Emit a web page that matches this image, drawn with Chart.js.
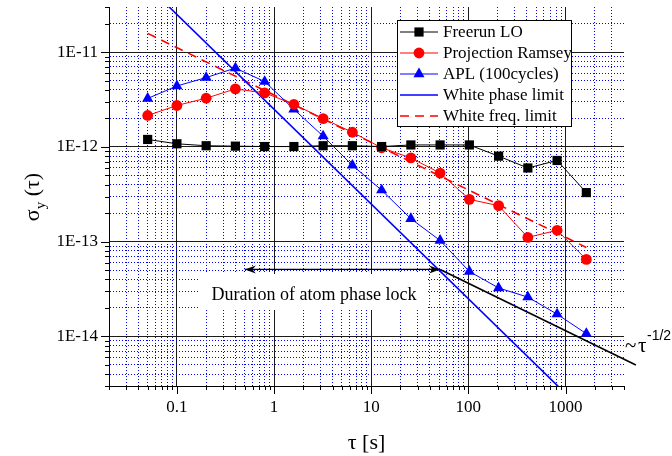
<!DOCTYPE html>
<html>
<head>
<meta charset="utf-8">
<script src="https://cdn.jsdelivr.net/npm/chart.js@4"></script>
<style>
  html, body { margin: 0; padding: 0; background: #fff; }
</style>
</head>
<body>
<canvas id="adevChart" width="672" height="456"></canvas>
<script>
// averaging times (s)
const tau = [0.05, 0.1, 0.2, 0.4, 0.8, 1.6, 3.2, 6.4, 12.8, 25.6, 51.2, 102.4, 204.8, 409.6, 819.2, 1638.4];
const freerunLO = [1.2e-12, 1.08e-12, 1.03e-12, 1.02e-12, 1.01e-12, 1.01e-12, 1.03e-12, 1.03e-12, 1.01e-12, 1.05e-12, 1.05e-12, 1.05e-12, 8.0e-13, 6.0e-13, 7.2e-13, 3.3e-13];
const projRamsey = [2.15e-12, 2.74e-12, 3.27e-12, 4.1e-12, 3.72e-12, 2.82e-12, 1.99e-12, 1.43e-12, 9.8e-13, 7.66e-13, 5.3e-13, 2.8e-13, 2.4e-13, 1.11e-13, 1.32e-13, 6.5e-14];
const apl = [3.25e-12, 4.4e-12, 5.4e-12, 6.8e-12, 4.9e-12, 2.5e-12, 1.3e-12, 6.4e-13, 3.5e-13, 1.75e-13, 1.03e-13, 4.85e-14, 3.25e-14, 2.6e-14, 1.72e-14, 1.07e-14];

// limit lines
const whitePhaseTau = [0.02, 4000];
const whitePhaseSigma = [1.25e-10, 6.25e-16];
const whiteFreqTau = [0.05, 1638.4];
const whiteFreqSigma = [1.58e-11, 8.7e-14];
const slopeTau = [51.2, 5300];
const slopeSigma = [5.1e-14, 5.0e-15];
const lockTau = [0.5, 51.2];
const lockSigma = [5.1e-14, 5.1e-14];

// axes
const xRange = [0.02, 4000];
const yRange = [3e-15, 3e-11];
const xTickValues = [0.1, 1, 10, 100, 1000];
const xTickLabels = ['0.1', '1', '10', '100', '1000'];
const yTickValues = [1e-14, 1e-13, 1e-12, 1e-11];
const yTickLabels = ['1E-14', '1E-13', '1E-12', '1E-11'];

const serif = "'Liberation Serif', 'Times New Roman', serif";
const sans = "'Liberation Sans', Arial, sans-serif";

function pts(xs, ys) {
    return xs.map((x, i) => ({ x: x, y: ys[i] }));
}

function isDecade(v) {
    const l = Math.log10(v);
    return Math.abs(l - Math.round(l)) < 1e-6;
}

function sameVal(a, b) {
    return Math.abs(Math.log10(a) - Math.log10(b)) < 1e-6;
}

function logTicks(min, max) {
    const out = [];
    for (let e = Math.floor(Math.log10(min)); e <= Math.ceil(Math.log10(max)); e++) {
        for (let m = 1; m <= 9; m++) {
            const v = m * Math.pow(10, e);
            if (v >= min * 0.9999 && v <= max * 1.0001) out.push(v);
        }
    }
    return out;
}

function gridColor(c) {
    if (!c.tick) return 'transparent';
    const v = c.tick.value;
    const s = c.scale;
    if (sameVal(v, s.min) || sameVal(v, s.max)) return 'transparent';
    return isDecade(v) ? '#1a1a1a' : '#0000ff';
}

function gridDash(c) {
    if (!c.tick) return [];
    return isDecade(c.tick.value) ? [] : [1, 2];
}

function drawArrowHead(c, x, y, dir) {
    const len = 11, half = 4;
    c.beginPath();
    c.moveTo(x, y);
    c.lineTo(x - dir * len, y - half);
    c.lineTo(x - dir * len * 0.7, y);
    c.lineTo(x - dir * len, y + half);
    c.closePath();
    c.fill();
}

const decorations = {
    id: 'decorations',
    beforeDatasetsDraw(chart) {
        const c = chart.ctx;
        c.save();
        c.fillStyle = '#fff';
        c.fillRect(200, 274, 228, 36);
        c.fillStyle = '#000';
        c.font = '18px ' + serif;
        c.textAlign = 'center';
        c.textBaseline = 'alphabetic';
        c.fillText('Duration of atom phase lock', 314, 300);
        c.restore();
    },
    afterDraw(chart) {
        const c = chart.ctx;
        const xs = chart.scales.x, ys = chart.scales.y;
        c.save();

        // tick marks
        c.strokeStyle = '#000';
        c.lineWidth = 1;
        c.beginPath();
        xs.ticks.forEach(t => {
            const px = Math.round(xs.getPixelForValue(t.value)) + 0.5;
            const len = isDecade(t.value) ? 8 : 4;
            c.moveTo(px, ys.bottom);
            c.lineTo(px, ys.bottom + len);
        });
        ys.ticks.forEach(t => {
            const py = Math.round(ys.getPixelForValue(t.value)) + 0.5;
            const len = isDecade(t.value) ? 8 : 4;
            c.moveTo(xs.left, py);
            c.lineTo(xs.left - len, py);
        });
        c.stroke();

        // arrow heads of the phase lock span
        c.fillStyle = '#000';
        const ay = ys.getPixelForValue(lockSigma[0]);
        drawArrowHead(c, xs.getPixelForValue(lockTau[0]), ay, -1);
        drawArrowHead(c, xs.getPixelForValue(lockTau[1]), ay, 1);

        // ~ tau^-1/2 label
        c.textAlign = 'left';
        c.textBaseline = 'alphabetic';
        c.font = '21px ' + serif;
        c.fillText('~', 625, 352);
        c.fillText('τ', 638, 352);
        c.font = '14px ' + sans;
        c.fillText('-1/2', 647, 340);

        // y axis title with subscript
        c.translate(39, 197);
        c.rotate(-Math.PI / 2);
        c.font = '22px ' + serif;
        const wSig = c.measureText('σ').width;
        const wRest = c.measureText(' (τ)').width;
        c.font = '15px ' + serif;
        const wSub = c.measureText('y').width;
        let x0 = -(wSig + wSub + wRest) / 2;
        c.font = '22px ' + serif;
        c.fillText('σ', x0, 0);
        c.font = '15px ' + serif;
        c.fillText('y', x0 + wSig, 6);
        c.font = '22px ' + serif;
        c.fillText(' (τ)', x0 + wSig + wSub, 0);
        c.setTransform(1, 0, 0, 1, 0, 0);

        // legend box
        c.fillStyle = '#fff';
        c.fillRect(397, 20, 175, 107);
        c.strokeStyle = '#000';
        c.lineWidth = 1;
        c.strokeRect(397.5, 20.5, 174, 106);
        const rows = [32, 53, 74, 95, 116];
        chart.data.datasets.slice(0, 5).forEach((ds, i) => {
            const y = rows[i];
            c.strokeStyle = ds.borderColor;
            c.lineWidth = ds.borderWidth;
            c.setLineDash(ds.borderDash || []);
            c.beginPath();
            c.moveTo(400, y);
            c.lineTo(438, y);
            c.stroke();
            c.setLineDash([]);
            if (ds.pointRadius > 0) {
                c.fillStyle = ds.backgroundColor;
                Chart.helpers.drawPoint(c, { pointStyle: ds.pointStyle, radius: ds.pointRadius, rotation: 0, borderWidth: 0 }, 419, y);
            }
            c.fillStyle = '#000';
            c.font = '17px ' + serif;
            c.textAlign = 'left';
            c.textBaseline = 'middle';
            c.fillText(ds.label, 443, y + 1);
        });
        c.restore();
    }
};

const ctx = document.getElementById('adevChart').getContext('2d');
const chart = new Chart(ctx, {
    type: 'line',
    data: {
        datasets: [
            {
                label: 'Freerun LO',
                data: pts(tau, freerunLO),
                borderColor: '#000000',
                backgroundColor: '#000000',
                borderWidth: 1,
                pointStyle: 'rect',
                pointRadius: 6.5,
                pointBorderWidth: 0
            },
            {
                label: 'Projection Ramsey',
                data: pts(tau, projRamsey),
                borderColor: '#ff0000',
                backgroundColor: '#ff0000',
                borderWidth: 1,
                pointStyle: 'circle',
                pointRadius: 5.4,
                pointBorderWidth: 0
            },
            {
                label: 'APL (100cycles)',
                data: pts(tau, apl),
                borderColor: '#0000ff',
                backgroundColor: '#0000ff',
                borderWidth: 1,
                pointStyle: 'triangle',
                pointRadius: 6.4,
                pointBorderWidth: 0
            },
            {
                label: 'White phase limit',
                data: pts(whitePhaseTau, whitePhaseSigma),
                borderColor: '#0000ff',
                backgroundColor: '#0000ff',
                borderWidth: 1.6,
                pointRadius: 0
            },
            {
                label: 'White freq. limit',
                data: pts(whiteFreqTau, whiteFreqSigma),
                borderColor: '#ff0000',
                backgroundColor: '#ff0000',
                borderWidth: 1.6,
                borderDash: [9, 6],
                pointRadius: 0
            },
            {
                label: 'tau^-1/2',
                data: pts(slopeTau, slopeSigma),
                borderColor: '#000000',
                borderWidth: 1.6,
                pointRadius: 0,
                clip: false
            },
            {
                label: 'phase lock',
                data: pts(lockTau, lockSigma),
                borderColor: '#000000',
                borderWidth: 1.4,
                pointRadius: 0
            }
        ]
    },
    options: {
        responsive: false,
        animation: false,
        layout: { padding: { top: 7, right: 48, left: 0, bottom: 0 } },
        plugins: {
            legend: { display: false },
            tooltip: { enabled: false }
        },
        scales: {
            x: {
                type: 'logarithmic',
                position: 'bottom',
                min: xRange[0],
                max: xRange[1],
                afterBuildTicks: s => { s.ticks = logTicks(xRange[0], xRange[1]).map(v => ({ value: v })); },
                afterFit: s => { s.height = 70; s.paddingLeft = 0; s.paddingRight = 0; },
                ticks: {
                    autoSkip: false,
                    maxRotation: 0,
                    minRotation: 0,
                    padding: 11,
                    color: '#000',
                    font: { family: serif, size: 17 },
                    callback: v => {
                        const i = xTickValues.findIndex(t => sameVal(t, v));
                        return i >= 0 ? xTickLabels[i] : '';
                    }
                },
                grid: { color: gridColor, lineWidth: 1, drawTicks: false },
                border: { display: true, color: '#000', width: 1, dash: gridDash },
                title: {
                    display: true,
                    text: 'τ [s]',
                    color: '#000',
                    font: { family: serif, size: 22 },
                    padding: { top: 0, bottom: 0 }
                }
            },
            y: {
                type: 'logarithmic',
                position: 'left',
                min: yRange[0],
                max: yRange[1],
                afterBuildTicks: s => { s.ticks = logTicks(yRange[0], yRange[1]).map(v => ({ value: v })); },
                afterFit: s => { s.width = 109; s.paddingTop = 0; s.paddingBottom = 0; },
                ticks: {
                    autoSkip: false,
                    padding: 11,
                    color: '#000',
                    font: { family: serif, size: 17 },
                    callback: v => {
                        const i = yTickValues.findIndex(t => sameVal(t, v));
                        return i >= 0 ? yTickLabels[i] : '';
                    }
                },
                grid: { color: gridColor, lineWidth: 1, drawTicks: false },
                border: { display: true, color: '#000', width: 1, dash: gridDash },
                title: { display: false }
            }
        }
    },
    plugins: [decorations]
});
</script>
</body>
</html>
